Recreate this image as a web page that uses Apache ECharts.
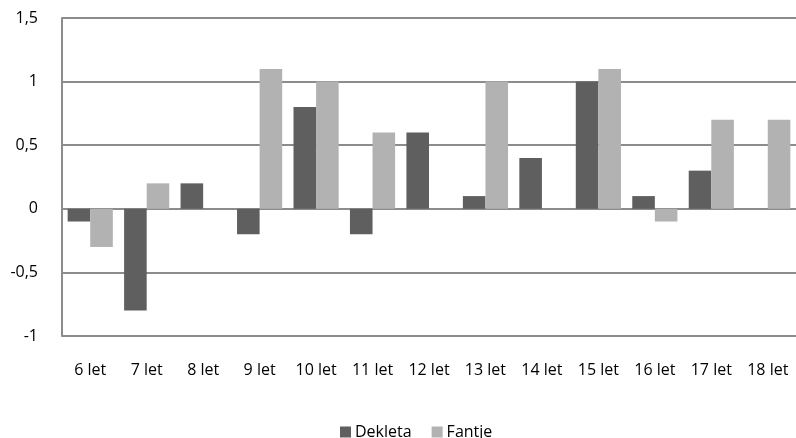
<!DOCTYPE html>
<html>
<head>
<meta charset="utf-8">
<script src="https://cdn.jsdelivr.net/npm/echarts@6/dist/echarts.min.js"></script>
<style>
html,body{margin:0;padding:0;background:#fff;}
#chart{width:796px;height:438px;}
</style>
</head>
<body>
<div id="chart"></div>
<script>
const categories = ['6 let','7 let','8 let','9 let','10 let','11 let','12 let','13 let','14 let','15 let','16 let','17 let','18 let'];
const dekleta = [-0.1, -0.8, 0.2, -0.2, 0.8, -0.2, 0.6, 0.1, 0.4, 1.0, 0.1, 0.3, 0];
const fantje = [-0.3, 0.2, 0, 1.1, 1.0, 0.6, 0, 1.0, 0, 1.1, -0.1, 0.7, 0.7];
const seriesNames = ['Dekleta', 'Fantje'];

const font = 'Open Sans';
const fs = 16;
const chart = echarts.init(document.getElementById('chart'));
chart.setOption({
  animation: false,
  textStyle: { fontFamily: font },
  grid: { left: 62, right: -5, top: 18, height: 318, containLabel: false },
  legend: {
    top: 419,
    left: 335,
    itemWidth: 11,
    itemHeight: 11,
    itemGap: 20,
    icon: 'rect',
    textStyle: { fontFamily: font, fontSize: fs, color: '#000', padding: [0, 0, 0, -1] },
    data: seriesNames
  },
  xAxis: {
    type: 'category',
    data: categories,
    axisLine: { show: false },
    axisTick: { show: false },
    axisLabel: { fontFamily: font, fontSize: fs, color: '#000', margin: 26 }
  },
  yAxis: {
    type: 'value',
    min: -1,
    max: 1.5,
    interval: 0.5,
    axisLine: { show: true, lineStyle: { color: '#8c8c8c', width: 2 } },
    axisTick: { show: false },
    splitLine: { lineStyle: { color: '#8c8c8c', width: 2 } },
    axisLabel: {
      fontFamily: font, fontSize: fs, color: '#000', margin: 24,
      formatter: v => String(v).replace('.', ',')
    }
  },
  series: [
    {
      name: seriesNames[0], type: 'bar', data: dekleta,
      barGap: '0%', barCategoryGap: '20%',
      itemStyle: { color: '#5f5f5f' }
    },
    {
      name: seriesNames[1], type: 'bar', data: fantje,
      barGap: '0%', barCategoryGap: '20%',
      itemStyle: { color: '#b2b2b2' }
    }
  ]
});
</script>
</body>
</html>
